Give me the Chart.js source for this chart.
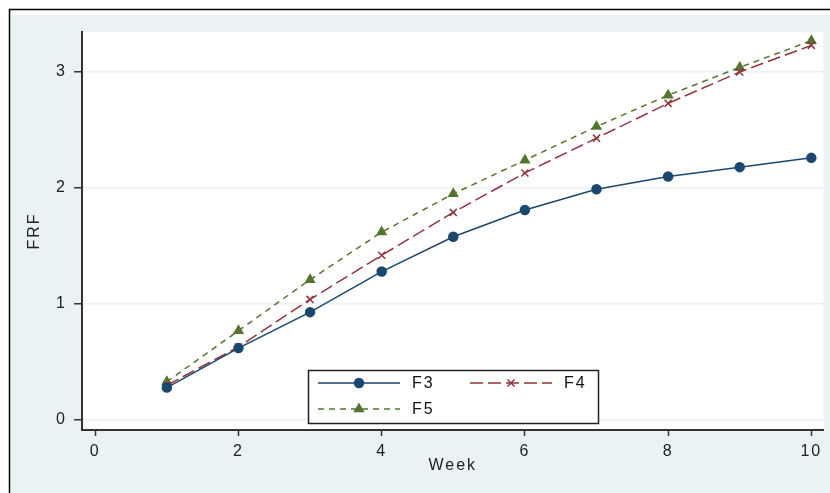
<!DOCTYPE html>
<html>
<head>
<meta charset="utf-8">
<script src="https://cdn.jsdelivr.net/npm/chart.js@4"></script>
<style>
  html, body { margin: 0; padding: 0; background: #ffffff; }
  #wrap { width: 830px; height: 493px; }
</style>
</head>
<body>
<div id="wrap"><canvas id="chart" width="830" height="493"></canvas></div>
<script>
var weeks = [1, 2, 3, 4, 5, 6, 7, 8, 9, 10];
var f3 = [0.28, 0.62, 0.93, 1.28, 1.58, 1.81, 1.99, 2.10, 2.18, 2.26];
var f4 = [0.30, 0.63, 1.04, 1.42, 1.79, 2.13, 2.43, 2.73, 3.00, 3.23];
var f5 = [0.33, 0.77, 1.21, 1.62, 1.95, 2.24, 2.53, 2.80, 3.04, 3.27];
var xTicks = [0, 2, 4, 6, 8, 10];
var yTicks = [0, 1, 2, 3];

var bgColor = "#eaf2f3";
var font = "'Liberation Sans', Arial, sans-serif";
var spacing = "2px"; // the original text is stretched sideways

function toPoints(values) {
    return weeks.map(function (w, i) { return { x: w, y: values[i] }; });
}

var seriesStyle = [
    { label: "F3", data: f3, color: "#1a476f", dash: [], point: "circle", radius: 4.5 },
    { label: "F4", data: f4, color: "#90353b", dash: [13, 5], point: "crossRot", radius: 5 },
    { label: "F5", data: f5, color: "#55752f", dash: [6, 5], point: "triangle", radius: 5 }
];

// frame, grey background and white plot region
var backdrop = {
    id: "backdrop",
    beforeDraw: function (chart) {
        var ctx = chart.ctx;
        var a = chart.chartArea;
        ctx.save();
        ctx.fillStyle = "#ffffff";
        ctx.fillRect(0, 0, chart.width, chart.height);
        ctx.fillStyle = bgColor;
        ctx.fillRect(10, 15, chart.width - 10, chart.height - 15);
        ctx.strokeStyle = "#000000";
        ctx.lineWidth = 1.5;
        ctx.beginPath();
        ctx.moveTo(9.5, chart.height + 2);
        ctx.lineTo(9.5, 9.5);
        ctx.lineTo(chart.width + 2, 9.5);
        ctx.stroke();
        ctx.fillStyle = "#ffffff";
        ctx.fillRect(a.left, a.top, a.right - a.left, a.bottom - a.top);
        ctx.restore();
        ctx.letterSpacing = spacing;
    }
};

// legend box inside the plot
var boxLegend = {
    id: "boxLegend",
    afterDraw: function (chart) {
        var ctx = chart.ctx;
        var bx = 308, by = 370, bw = 290, bh = 53;
        ctx.save();
        ctx.fillStyle = "#ffffff";
        ctx.fillRect(bx, by, bw, bh);
        ctx.strokeStyle = "#222222";
        ctx.lineWidth = 1.5;
        ctx.strokeRect(bx + 0.5, by + 0.5, bw, bh);
        var slots = [
            { x: 318, y: 383 },
            { x: 470, y: 383 },
            { x: 318, y: 409 }
        ];
        seriesStyle.forEach(function (s, i) {
            var p = slots[i];
            ctx.strokeStyle = s.color;
            ctx.lineWidth = 1.5;
            ctx.setLineDash(s.dash);
            ctx.beginPath();
            ctx.moveTo(p.x, p.y);
            ctx.lineTo(p.x + 82, p.y);
            ctx.stroke();
            ctx.setLineDash([]);
            ctx.fillStyle = s.color;
            ctx.strokeStyle = s.color;
            Chart.helpers.drawPoint(ctx, {
                pointStyle: s.point,
                radius: s.radius,
                borderWidth: 1.5
            }, p.x + 41, p.y);
            ctx.fillStyle = "#111111";
            ctx.font = "16px " + font;
            ctx.letterSpacing = spacing;
            ctx.textBaseline = "middle";
            ctx.textAlign = "left";
            ctx.fillText(s.label, p.x + 94, p.y + 1);
        });
        ctx.restore();
    }
};

var chart = new Chart(document.getElementById("chart"), {
    type: "line",
    data: {
        datasets: seriesStyle.map(function (s) {
            return {
                label: s.label,
                data: toPoints(s.data),
                borderColor: s.color,
                backgroundColor: s.color,
                borderWidth: 1.5,
                borderDash: s.dash,
                pointStyle: s.point,
                pointRadius: s.radius,
                pointBorderWidth: 1.5,
                pointBorderColor: s.color,
                pointBackgroundColor: s.color,
                tension: 0,
                fill: false
            };
        })
    },
    options: {
        responsive: false,
        animation: false,
        layout: { padding: { top: 32, right: 3, left: 0, bottom: 0 } },
        scales: {
            x: {
                type: "linear",
                min: -0.185,
                max: 10.17,
                afterBuildTicks: function (scale) {
                    scale.ticks = xTicks.map(function (v) { return { value: v }; });
                },
                afterFit: function (scale) { scale.height = 63; },
                grid: {
                    display: true,
                    drawOnChartArea: false,
                    drawTicks: true,
                    tickLength: 6,
                    tickWidth: 1.5,
                    tickColor: "#333333"
                },
                border: { display: true, color: "#333333", width: 2 },
                ticks: {
                    color: "#222222",
                    font: { family: font, size: 16 },
                    padding: 6,
                    maxRotation: 0
                },
                title: {
                    display: true,
                    text: "Week",
                    color: "#222222",
                    font: { family: font, size: 16 },
                    padding: { top: 0, bottom: 18 }
                }
            },
            y: {
                min: -0.086,
                max: 3.345,
                afterBuildTicks: function (scale) {
                    scale.ticks = yTicks.map(function (v) { return { value: v }; });
                },
                afterFit: function (scale) { scale.width = 82; },
                grid: {
                    color: bgColor,
                    lineWidth: 1.5,
                    drawTicks: true,
                    tickLength: 8,
                    tickWidth: 1.5,
                    tickColor: "#333333"
                },
                border: { display: true, color: "#333333", width: 2 },
                ticks: {
                    color: "#222222",
                    font: { family: font, size: 16 },
                    padding: 7
                },
                title: {
                    display: true,
                    text: "FRF",
                    color: "#222222",
                    font: { family: font, size: 16 },
                    padding: { top: 25, bottom: 0 }
                }
            }
        },
        plugins: {
            legend: { display: false },
            tooltip: { enabled: false }
        }
    },
    plugins: [backdrop, boxLegend]
});
</script>
</body>
</html>
